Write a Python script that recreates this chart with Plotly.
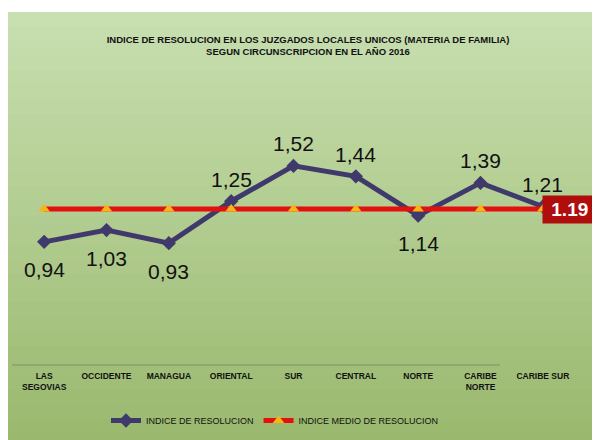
import plotly.graph_objects as go

categorias = ["LAS<br>SEGOVIAS", "OCCIDENTE", "MANAGUA", "ORIENTAL", "SUR",
              "CENTRAL", "NORTE", "CARIBE<br>NORTE", "CARIBE SUR"]
indice = [0.94, 1.03, 0.93, 1.25, 1.52, 1.44, 1.14, 1.39, 1.21]
indice_medio = [1.19] * 9
etiquetas = ["0,94", "1,03", "0,93", "1,25", "1,52", "1,44", "1,14", "1,39", "1,21"]
posicion = ["abajo", "abajo", "abajo", "arriba", "arriba", "arriba", "abajo", "arriba", "arriba"]

FONT = "Liberation Sans, Arial, sans-serif"

# the page puts the figure 8px in from the corner; screen coords = layout + 8
OFF = 8
# plot area in screen pixels: x 13..574, y 103..365 (y range 0..2)
L, R, T, B = 13 - OFF, 574 - OFF, 103 - OFF, 365 - OFF


def px_x(p):
    return (p - OFF - L) / (R - L)


def px_y(p):
    return (B - (p - OFF)) / (B - T)


def mix(c1, c2, t):
    return "rgb(%d,%d,%d)" % tuple(int(a + (b - a) * t) for a, b in zip(c1, c2))


fig = go.Figure()

fig.add_trace(go.Scatter(x=list(range(9)), y=indice, name="INDICE DE RESOLUCION",
                         mode="lines+markers",
                         line=dict(color="#3f3a6b", width=5),
                         marker=dict(symbol="diamond", size=11, color="#3f3a6b")))
fig.add_trace(go.Scatter(x=list(range(9)), y=indice_medio, name="INDICE MEDIO DE RESOLUCION",
                         mode="lines+markers",
                         line=dict(color="#e2110d", width=5),
                         marker=dict(symbol="triangle-up", size=10, color="#f7b516")))

# background gradient
shapes = []
top_c = (200, 223, 176)
bot_c = (154, 185, 110)
n = 30
y0p, y1p = 12, 448
for i in range(n):
    a = y0p + (y1p - y0p) * i / n
    b = y0p + (y1p - y0p) * (i + 1) / n + 1
    shapes.append(dict(type="rect", xref="paper", yref="paper", layer="below",
                       x0=px_x(8), x1=px_x(610), y0=px_y(b), y1=px_y(a),
                       fillcolor=mix(top_c, bot_c, i / (n - 1)), line_width=0))
shapes.append(dict(type="line", xref="paper", yref="paper", x0=px_x(12), x1=px_x(500),
                   y0=0, y1=0, line=dict(color="#7f8f6a", width=1)))

annotations = []
for i, (v, t, p) in enumerate(zip(indice, etiquetas, posicion)):
    annotations.append(dict(x=i, y=v, text=t, showarrow=False,
                            yshift=-28 if p == "abajo" else 22,
                            font=dict(family=FONT, size=21, color="#111111")))
annotations.append(dict(x=px_x(569.5), y=px_y(209), xref="paper", yref="paper",
                        xanchor="center", yanchor="middle",
                        text="&nbsp;<b>1.19</b>&nbsp;", showarrow=False, bgcolor="#b00d0d",
                        borderpad=3, font=dict(family=FONT, size=19, color="white")))

fig.update_layout(
    width=600, height=440,
    margin=dict(l=L, r=600 - R, t=T, b=440 - B, autoexpand=False),
    paper_bgcolor="white", plot_bgcolor="rgba(0,0,0,0)",
    shapes=shapes, annotations=annotations,
    title=dict(text="<b>INDICE DE RESOLUCION EN LOS JUZGADOS LOCALES UNICOS (MATERIA DE FAMILIA)<br>"
                    "SEGUN CIRCUNSCRIPCION EN EL AÑO 2016</b>",
               x=px_x(308), xanchor="center", xref="paper",
               y=1 - (43 - OFF) / 440, yanchor="middle",
               font=dict(family=FONT, size=9.5, color="#111111")),
    xaxis=dict(tickmode="array", tickvals=list(range(9)),
               ticktext=["<b>%s</b>" % c for c in categorias],
               range=[-0.5, 8.5], showgrid=False, zeroline=False, showline=False,
               automargin=False, ticklen=0, ticks="", ticklabelstandoff=4,
               tickfont=dict(family=FONT, size=8.5, color="#111111")),
    yaxis=dict(range=[0, 2], visible=False),
    legend=dict(orientation="h", x=px_x(275), xanchor="center",
                y=px_y(406), yanchor="top",
                bgcolor="rgba(0,0,0,0)", tracegroupgap=0, itemwidth=30,
                font=dict(family=FONT, size=9, color="#111111")),
    showlegend=True,
)

fig.write_html("out.html")
